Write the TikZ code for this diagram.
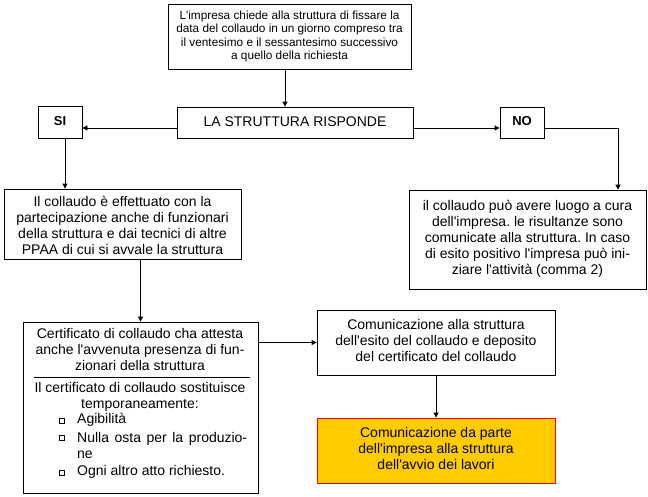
\documentclass[tikz,border=0pt]{standalone}
\usepackage{fontspec}
\setmainfont{Liberation Sans}
\usetikzlibrary{arrows.meta,positioning}
\definecolor{boxorange}{HTML}{FFCC00}
\definecolor{boxred}{HTML}{FF0000}
\frenchspacing
\newcommand{\ap}{\textquotesingle}
\tikzset{
  box/.style={draw, line width=0.8pt, inner sep=0pt},
  txt/.style={inner sep=0pt, align=center, font=\fontsize{14}{16}\selectfont},
  arr/.style={line width=0.8pt, -{Triangle[length=5pt,width=5pt]}},
  ln/.style={line width=0.8pt},
  bul/.style={draw, line width=0.6pt, minimum width=5.5pt, minimum height=4.5pt, inner sep=0pt}
}
\begin{document}
\begin{tikzpicture}[x=1pt,y=-1pt]
\useasboundingbox (0,0) rectangle (648,496);
% boxes
\node[box, minimum width=243pt, minimum height=65pt] (top) at (289.5,36.5) {};
\node[box, minimum width=236pt, minimum height=31pt] (la) at (295,122.5) {};
\node[box, minimum width=44pt, minimum height=32pt] (si) at (60,122) {};
\node[box, minimum width=44pt, minimum height=31pt] (no) at (522,122.5) {};
\node[box, minimum width=237pt, minimum height=70pt] (b2) at (122.5,224) {};
\node[box, minimum width=237pt, minimum height=99pt] (b3) at (527.5,239.5) {};
\node[box, minimum width=235pt, minimum height=171pt] (b4) at (140.5,407.5) {};
\node[box, minimum width=238pt, minimum height=65pt] (b5) at (436,342.5) {};
\node[box, draw=boxred, fill=boxorange, minimum width=238pt, minimum height=65pt] (b6) at (436,450.5) {};
% texts
\node[txt, font=\fontsize{11.8}{13.3}\selectfont] (ttop) at (top.center)
  {L\ap impresa chiede alla struttura di fissare la\\data del collaudo in un giorno compreso tra\\il ventesimo e il sessantesimo successivo\\a quello della richiesta};
\node[txt] (tla) at (295,122) {LA STRUTTURA RISPONDE};
\node[txt, font=\fontsize{13}{14}\bfseries] (tsi) at (60,121.5) {SI};
\node[txt, font=\fontsize{13}{14}\bfseries] (tno) at (522,121.5) {NO};
\node[txt] (tb2) at (122.5,225.5)
  {Il collaudo è effettuato con la\\partecipazione anche di funzionari\\della struttura e dai tecnici di altre\\PPAA di cui si avvale la struttura};
\node[txt] (tb3) at (527.5,238.5)
  {il collaudo può avere luogo a cura\\dell\ap impresa. le risultanze sono\\comunicate alla struttura. In caso\\di esito positivo l\ap impresa può ini-\\ziare l\ap attività (comma 2)};
\node[txt] (c1) at (140,349.5) {Certificato di collaudo cha attesta\\anche l\ap avvenuta presenza di fun-\\zionari della struttura};
\coordinate (d1) at (34,377);
\coordinate (d2) at (250,377);
\draw[ln] (d1) -- (d2);
\node[txt] (c2) at (140,397) {Il certificato di collaudo sostituisce\\temporaneamente:};
\node[bul] (q1) at (62,421) {};
\node[bul] (q2) at (62,438) {};
\node[bul] (q3) at (62,473) {};
\node[txt, anchor=west] (i1) at (77,420) {Agibilità};
\node[txt, anchor=west, align=left] (i2) at (77,445)
  {\makebox[170pt][s]{Nulla osta per la produzio-}\\ne};
\node[txt, anchor=west] (i3) at (77,472) {Ogni altro atto richiesto.};
\node[txt] (tb5) at (436,340.5)
  {Comunicazione alla struttura\\dell\ap esito del collaudo e deposito\\del certificato del collaudo};
\node[txt] (tb6) at (436,448)
  {Comunicazione da parte\\dell\ap impresa alla struttura\\dell\ap avvio dei lavori};
% connectors
\draw[arr] ([xshift=-4.5pt]top.south) -- ([xshift=-10pt]la.north);
\draw[arr] ([yshift=-5.5pt]la.west) -- ([yshift=-6pt]si.east);
\draw[arr] ([yshift=-5.5pt]la.east) -- ([yshift=-5.5pt]no.west);
\draw[arr] ([xshift=5pt]si.south) -- ([xshift=-57.5pt]b2.north);
\draw[arr] ([yshift=-5.5pt]no.east) -| ([xshift=90.5pt]b3.north);
\draw[arr] (b2.south -| b4.north) -- (b4.north);
\draw[arr] (b5.west -| b4.east) -- (b5.west);
\draw[arr] (b5.south) -- (b6.north);
\end{tikzpicture}
\end{document}
